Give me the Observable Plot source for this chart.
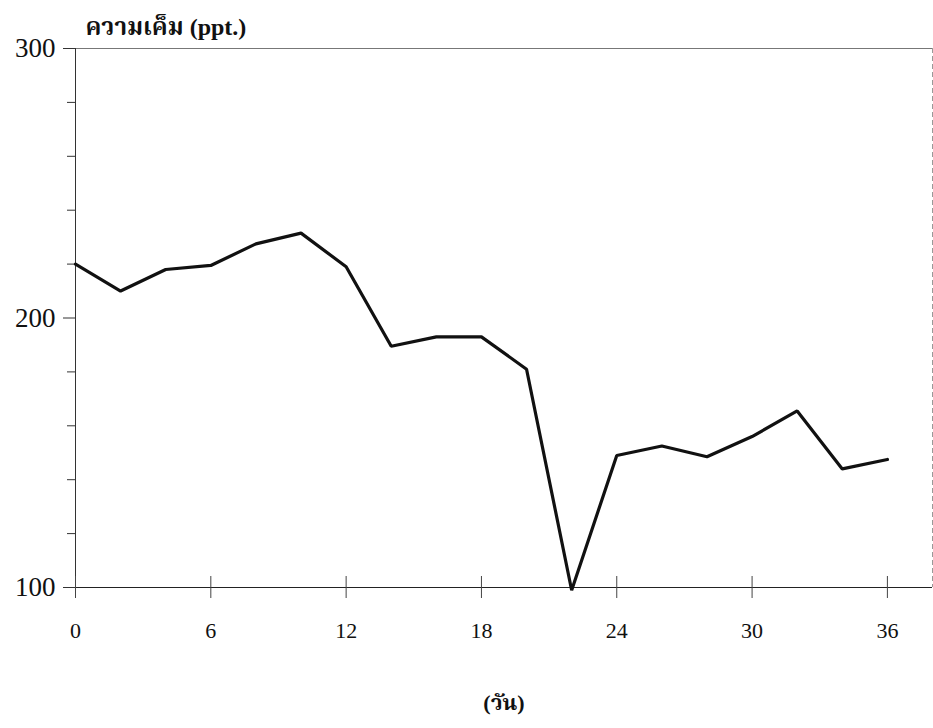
<!DOCTYPE html>
<html>
<head>
<meta charset="utf-8">
<script src="https://cdn.jsdelivr.net/npm/d3@7"></script>
<script src="https://cdn.jsdelivr.net/npm/@observablehq/plot@0.6"></script>
<style>
  html, body { margin: 0; padding: 0; background: #fff; }
</style>
</head>
<body>
<div id="chart"></div>
<script>
// Data
const days = [0, 2, 4, 6, 8, 10, 12, 14, 16, 18, 20, 22, 24, 26, 28, 30, 32, 34, 36];
const salinity = [220, 210, 218, 219.5, 227.5, 231.5, 219, 189.5, 193, 193, 181, 99, 149, 152.5, 148.5, 156, 165.5, 144, 147.5];
const xTicks = [0, 6, 12, 18, 24, 30, 36];
const yTicks = [100, 200, 300];
const yMinorTicks = [120, 140, 160, 180, 220, 240, 260, 280];
const yTitle = "ความเค็ม (ppt.)";
const xTitle = "(วัน)";

const data = days.map((d, i) => ({day: d, value: salinity[i]}));
const font = "'Liberation Serif', 'Times New Roman', 'Noto Serif Thai', 'Noto Sans Thai', serif";

const chart = Plot.plot({
  width: 933,
  height: 728,
  marginLeft: 75,
  marginRight: 1,
  marginTop: 48,
  marginBottom: 141,
  style: {fontFamily: font, background: "#fff", color: "#111"},
  x: {domain: [0, 38], axis: null},
  y: {domain: [100, 300], axis: null},
  marks: [
    // top frame line and right dashed border
    Plot.ruleY([300], {stroke: "#777", strokeWidth: 1, insetLeft: -10}),
    Plot.ruleX([38], {stroke: "#999", strokeWidth: 1, strokeDasharray: "5,3"}),
    // left axis line
    Plot.ruleX([0], {stroke: "#333", strokeWidth: 1, insetBottom: -10}),
    // bottom axis line
    Plot.ruleY([100], {stroke: "#222", strokeWidth: 1, insetLeft: -12}),
    // y major ticks + labels
    Plot.axisY({ticks: yTicks, tickSize: 12, tickPadding: 8, fontSize: 27, label: null, stroke: "#333"}),
    // y minor ticks
    Plot.axisY({ticks: yMinorTicks, tickSize: 8, tickFormat: () => "", label: null, stroke: "#333"}),
    // x ticks crossing the axis
    Plot.axisX({ticks: xTicks, tickSize: 22, dy: -11, tickFormat: () => "", label: null, stroke: "#444"}),
    // x tick labels
    Plot.axisX({ticks: xTicks, tickSize: 0, tickPadding: 35, fontSize: 22, label: null}),
    // data line
    Plot.line(data, {x: "day", y: "value", stroke: "#111", strokeWidth: 3.2, strokeLinejoin: "miter"}),
    // titles
    Plot.text([yTitle], {frameAnchor: "top-left", text: d => d, dx: 10, dy: -21, lineAnchor: "middle", textAnchor: "start", fontSize: 24, fontWeight: "bold"}),
    Plot.text([xTitle], {frameAnchor: "bottom", text: d => d, dy: 115, lineAnchor: "middle", fontSize: 22, fontWeight: "bold"})
  ]
});
document.getElementById("chart").append(chart);
</script>
</body>
</html>
